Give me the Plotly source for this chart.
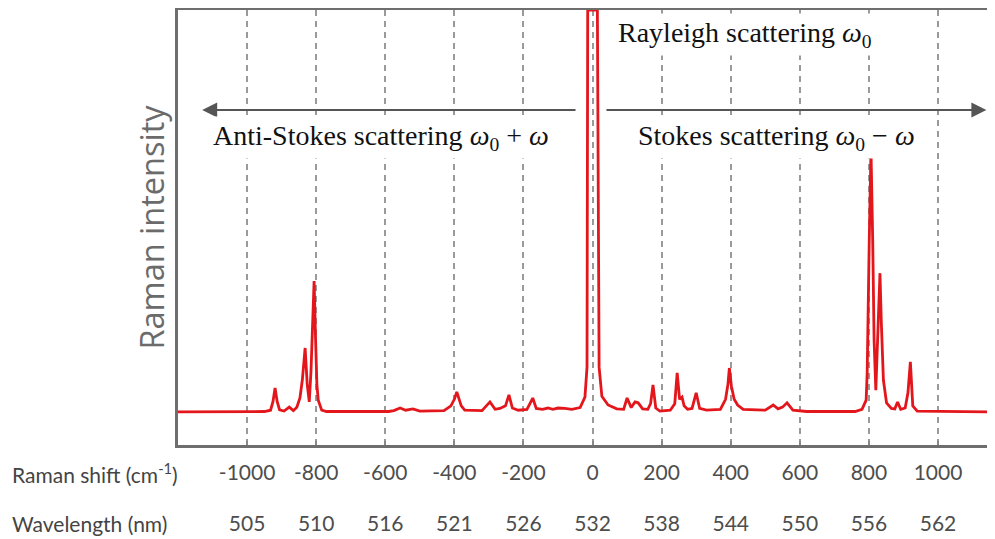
import plotly.graph_objects as go

# ---- data ----
# Raman spectrum, digitised (Raman shift in cm^-1, relative intensity 0..1 of the frame height)
shift_cm = [-1200, -950, -932, -925, -919, -913, -906, -893, -878, -866, -856, -847, -840, -832, -826, -820,
            -815, -810, -806, -802, -798, -794, -784, -770,
            -590, -575, -557, -541, -520, -500, -430, -410, -400, -393, -386, -380, -370, -320, -297, -282,
            -268, -262, -252, -242, -232, -215, -190, -173, -163, -145, -129, -115, -100, -80, -60, -36, -22,
            -16, -14,
            14, 19, 27, 45, 70, 90, 100, 112, 123, 132, 145, 160, 168, 175, 183, 195, 225, 238, 245, 252, 259,
            265, 275, 288, 300, 310, 330, 370, 385, 392, 396, 402, 410, 420, 436, 500, 523, 537, 550, 563, 580,
            620, 760, 780, 792, 795, 801, 806, 811, 815, 820, 824, 828, 832, 836, 842, 851, 865, 875, 883,
            892, 905, 913, 920, 927, 940, 1165]
intensity = [0.076, 0.077, 0.080, 0.100, 0.131, 0.100, 0.081, 0.078, 0.087, 0.079, 0.087, 0.108, 0.150,
             0.223, 0.140, 0.099, 0.170, 0.300, 0.377, 0.250, 0.140, 0.103, 0.080, 0.077,
             0.077, 0.079, 0.085, 0.080, 0.083, 0.078, 0.079, 0.090, 0.105, 0.122, 0.103, 0.090, 0.080,
             0.079, 0.099, 0.082, 0.084, 0.087, 0.090, 0.115, 0.085, 0.080, 0.082, 0.108, 0.084, 0.082,
             0.085, 0.082, 0.085, 0.084, 0.082, 0.086, 0.110, 0.179, 1.0,
             1.0, 0.179, 0.112, 0.092, 0.083, 0.082, 0.108, 0.086, 0.099, 0.097, 0.083, 0.082, 0.095, 0.138,
             0.085, 0.078, 0.080, 0.095, 0.166, 0.105, 0.110, 0.090, 0.082, 0.084, 0.120, 0.084, 0.080,
             0.082, 0.105, 0.140, 0.177, 0.135, 0.105, 0.092, 0.082, 0.080, 0.092, 0.083, 0.087, 0.097,
             0.080, 0.077, 0.077, 0.082, 0.103, 0.166, 0.471, 0.678, 0.471, 0.241, 0.126, 0.202, 0.317,
             0.395, 0.280, 0.149, 0.097, 0.084, 0.083, 0.099, 0.082, 0.085, 0.120, 0.191, 0.090, 0.078, 0.076]

tick_shift = [-1000, -800, -600, -400, -200, 0, 200, 400, 600, 800, 1000]
tick_shift_text = ["-1000", "-800", "-600", "-400", "-200", "0", "200", "400", "600", "800", "1000"]
tick_wavelength_text = ["505", "510", "516", "521", "526", "532", "538", "544", "550", "556", "562"]

x_range = [-1200, 1165]
y_range = [0, 1]

TICK_FONT = dict(family="Lato, 'Open Sans', sans-serif", size=21, color="#4d4d4d")
SERIF = dict(family="'Liberation Serif', 'DejaVu Serif', serif", size=28, color="#111111")
FRAME = "#6e6e6e"

fig = go.Figure()
fig.add_trace(go.Scatter(
    x=shift_cm, y=intensity, mode="lines",
    line=dict(color="#e3161c", width=2.8), hoverinfo="skip", showlegend=False,
))
# invisible trace so that the wavelength axis is created
fig.add_trace(go.Scatter(x=[tick_shift[0]], y=[None], xaxis="x2", mode="lines",
                         hoverinfo="skip", showlegend=False))

# the page body adds an 8px margin, so the figure is 8px smaller and its margins 8px tighter
fig.update_layout(
    width=987, height=531,
    margin=dict(l=170, r=0, t=2, b=0, autoexpand=False),
    paper_bgcolor="white", plot_bgcolor="white",
    xaxis=dict(
        range=x_range, tickvals=tick_shift, ticktext=tick_shift_text, automargin=False,
        showgrid=True, gridcolor="#9a9a9a", gridwidth=1.5, griddash="6px,5px",
        zeroline=False, showline=True, linecolor=FRAME, linewidth=3, mirror=True,
        ticks="inside", ticklen=4, tickwidth=1.5, tickcolor="#888888",
        tickfont=TICK_FONT, ticklabelstandoff=7,
    ),
    xaxis2=dict(
        range=x_range, overlaying="x", anchor="free", position=0.0568, side="bottom",
        tickvals=tick_shift, ticktext=tick_wavelength_text, automargin=False,
        showgrid=False, zeroline=False, showline=False, ticks="",
        tickfont=TICK_FONT,
    ),
    yaxis=dict(
        domain=[0.1777, 1], range=y_range, automargin=False,
        showgrid=False, zeroline=False, showticklabels=False, ticks="",
        showline=True, linecolor=FRAME, linewidth=3, mirror=False,
        title=dict(text="Raman intensity", standoff=1,
                   font=dict(family="'Open Sans', sans-serif", size=32.5, color="#6b6b6b")),
    ),
)

annotations = [
    dict(text="Raman shift (cm<sup>-1</sup>)", xref="paper", yref="paper", x=-0.2055, y=0.1248,
         xanchor="left", yanchor="middle", showarrow=False,
         font=dict(family=TICK_FONT["family"], size=21, color="#444444")),
    dict(text="Wavelength (nm)", xref="paper", yref="paper", x=-0.2055, y=0.0302,
         xanchor="left", yanchor="middle", showarrow=False,
         font=dict(family=TICK_FONT["family"], size=21, color="#444444")),
    # arrows
    dict(x=-1130, y=0.770, ax=-45, ay=0.770, xref="x", yref="y", axref="x", ayref="y",
         text="", showarrow=True, arrowhead=2, arrowsize=1.5, arrowwidth=2, arrowcolor="#555555",
         standoff=0, startstandoff=0),
    dict(x=1140, y=0.770, ax=36, ay=0.770, xref="x", yref="y", axref="x", ayref="y",
         text="", showarrow=True, arrowhead=2, arrowsize=1.5, arrowwidth=2, arrowcolor="#555555",
         standoff=0, startstandoff=0),
    # labels
    dict(text="Rayleigh scattering <i>ω</i><sub>0</sub>", x=62, y=0.943, xref="x", yref="y",
         xanchor="left", yanchor="middle", showarrow=False, bgcolor="white", borderpad=3, font=SERIF),
    dict(text="Anti-Stokes scattering <i>ω</i><sub>0</sub> + <i>ω</i>", x=-611, y=0.708, xref="x", yref="y",
         xanchor="center", yanchor="middle", showarrow=False, bgcolor="white", borderpad=3, font=SERIF),
    dict(text="Stokes scattering <i>ω</i><sub>0</sub> − <i>ω</i>", x=533, y=0.708, xref="x", yref="y",
         xanchor="center", yanchor="middle", showarrow=False, bgcolor="white", borderpad=3, font=SERIF),
]
fig.update_layout(annotations=annotations)

fig.write_html("out.html")
